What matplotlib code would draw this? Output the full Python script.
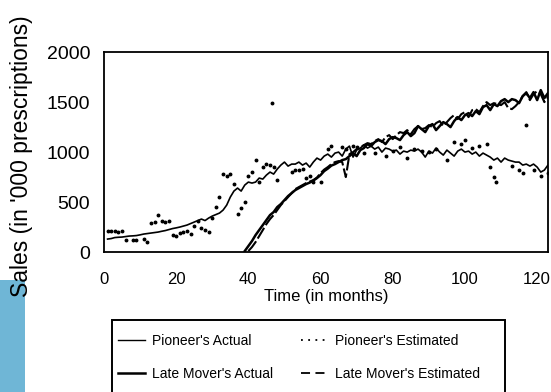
import matplotlib.pyplot as plt
import matplotlib
from matplotlib.lines import Line2D
from matplotlib.patches import Rectangle

matplotlib.rcParams['font.family'] = ['Liberation Sans', 'DejaVu Sans']

# pioneer's actual sales (month, '000 prescriptions)
pio_act_m = list(range(1, 125))
pio_act_v = [130, 135, 145, 148, 150, 155, 160, 162, 165, 172, 180, 185, 190, 195,
             200, 208, 215, 225, 235, 242, 250, 260, 270, 285, 300, 315, 330, 315,
             340, 360, 375, 390, 420, 470, 550, 610, 640, 610, 670, 700, 690, 700,
             740, 730, 770, 800, 780, 830, 870, 900, 860, 880, 880, 900, 870, 890,
             850, 900, 940, 920, 960, 980, 950, 990, 1000, 960, 1030, 1060, 950, 1020,
             1040, 1070, 1040, 1060, 1030, 1050, 1000, 1040, 1030, 1010, 1020, 980, 1010, 1000,
             1020, 1010, 1030, 1000, 950, 1010, 990, 1040, 1000, 970, 1020, 990, 960, 1010,
             1030, 1000, 1010, 980, 1000, 960, 990, 970, 950, 920, 940, 900, 940, 920,
             910, 900, 900, 870, 880, 860, 880, 850, 800, 820, 870, 850]

# pioneer's estimated sales
pio_est_m = [1, 2, 3, 4, 5, 6, 8, 9, 11, 12, 13, 14, 15, 16, 17, 18, 19, 20, 21, 22,
             23, 24, 25, 26, 27, 28, 29, 30, 31, 32, 33, 34, 35, 36, 37, 38, 39, 40,
             41, 42, 43, 44, 45, 46, 46.5, 47, 48, 52, 53, 54, 55, 56, 57, 58, 60, 62,
             63, 66, 67, 69, 70, 72, 75, 78, 80, 82, 84, 86, 88, 90, 92, 95, 97, 99,
             100, 102, 104, 106, 107, 108, 108.5, 113, 115, 116, 117, 119, 121, 123]
pio_est_v = [215, 210, 210, 205, 215, 120, 125, 120, 130, 100, 290, 300, 370, 310, 300,
             315, 170, 160, 190, 200, 210, 180, 260, 310, 240, 220, 200, 340, 450, 550,
             780, 760, 780, 680, 380, 440, 500, 760, 800, 920, 700, 850, 880, 870, 1490,
             850, 720, 800, 820, 820, 830, 740, 760, 700, 700, 1030, 1060, 1050, 1030, 1060,
             1050, 990, 990, 960, 1010, 1050, 940, 1030, 1010, 1000, 1030, 920, 1100, 1080,
             1120, 1040, 1060, 1080, 850, 750, 700, 860, 820, 790, 1270, 820, 760, 790]

# late mover's actual sales
late_act_m = list(range(39, 125))
late_act_v = [10, 60, 110, 170, 220, 270, 320, 370, 400, 450, 480, 520, 560, 590, 620,
              640, 660, 680, 695, 715, 740, 770, 810, 835, 865, 880, 900, 920, 930, 960,
              990, 960, 1020, 1040, 1080, 1060, 1100, 1120, 1110, 1080, 1130, 1150, 1140, 1120,
              1170, 1200, 1160, 1190, 1260, 1230, 1200, 1260, 1280, 1220, 1260, 1300, 1280, 1250,
              1310, 1350, 1320, 1370, 1390, 1360, 1410, 1380, 1450, 1470, 1420, 1480, 1460, 1510,
              1530, 1500, 1530, 1520, 1490, 1560, 1590, 1540, 1600, 1520, 1620, 1540, 1590, 1510]

# late mover's estimated sales
late_est_m = list(range(40, 125))
late_est_v = [10, 50, 100, 160, 220, 280, 330, 370, 420, 470, 510, 550, 590, 630, 650,
              670, 690, 705, 720, 745, 790, 825, 850, 880, 900, 910, 900, 750, 980, 1000,
              1030, 1050, 1070, 1090, 1080, 1110, 1130, 1100, 1150, 1170, 1130, 1170, 1200, 1190,
              1220, 1180, 1230, 1260, 1230, 1240, 1270, 1250, 1290, 1310, 1260, 1300, 1340, 1370,
              1330, 1380, 1400, 1350, 1420, 1430, 1400, 1460, 1500, 1470, 1490, 1480, 1470, 1500,
              1440, 1430, 1460, 1500, 1560, 1600, 1520, 1580, 1610, 1580, 1500, 1550, 1570]

x_ticks = [0, 20, 40, 60, 80, 100, 120]
y_ticks = [0, 500, 1000, 1500, 2000]

fig = plt.figure(figsize=(5.51, 3.92), dpi=100)
ax = fig.add_axes([0.1887, 0.357, 0.8058, 0.510])

fig.patches.append(Rectangle((0, 0), 25 / 551, 112 / 392, transform=fig.transFigure,
                             facecolor='#6fb6d6', edgecolor='none', zorder=0))

ax.plot(pio_act_m, pio_act_v, color='black', lw=1.2)
ax.plot(pio_est_m, pio_est_v, color='black', ls='none', marker='o', ms=1.8)
ax.plot(late_act_m, late_act_v, color='black', lw=1.8)
ax.plot(late_est_m, late_est_v, color='black', lw=1.5, dashes=(6, 1.5))

ax.set_xlim(0, 123)
ax.set_ylim(0, 2000)
ax.set_xticks(x_ticks)
ax.set_yticks(y_ticks)
ax.tick_params(axis='x', length=0, pad=14, labelsize=12)
ax.tick_params(axis='y', length=0, pad=10, labelsize=14)
for s in ax.spines.values():
    s.set_linewidth(1.3)

ax.set_xlabel('Time (in months)', fontsize=12, labelpad=2)
fig.text(22 / 551, 1 - 156 / 392, "Sales (in '000 prescriptions)", rotation=90,
         ha='center', va='center', fontsize=16.5, zorder=3)

# legend box (runs off the bottom edge like the scan)
fig.patches.append(Rectangle((112 / 551, -0.05), 393 / 551, 72 / 392 + 0.05,
                             transform=fig.transFigure, facecolor='none',
                             edgecolor='black', lw=1.4, zorder=2))

handles = [
    Line2D([], [], color='black', lw=1.0),
    Line2D([], [], color='black', lw=1.8),
    Line2D([], [], color='black', ls=(0, (1, 3)), lw=1.3),
    Line2D([], [], color='black', lw=1.3, dashes=(5, 3)),
]
labels = ["Pioneer's Actual", "Late Mover's Actual",
          "Pioneer's Estimated", "Late Mover's Estimated"]
fig.legend(handles, labels, loc='upper left', ncol=2,
           bbox_to_anchor=(118 / 551, 1 - 334 / 392),
           fontsize=10, frameon=False, borderpad=0, borderaxespad=0,
           labelspacing=1.35, handlelength=1.95, handletextpad=0.5,
           columnspacing=2.0)

plt.savefig('out.png', dpi=100)
